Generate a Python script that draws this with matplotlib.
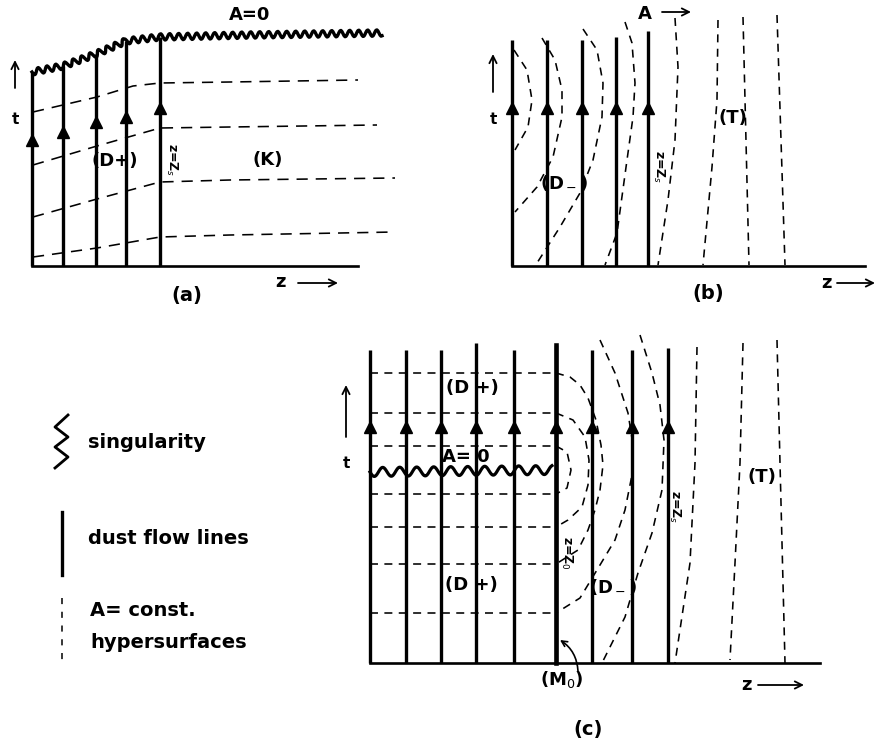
"""Dust collapse space-time diagrams (a), (b), (c) with legend."""
import matplotlib.pyplot as plt

plt.rcParams['font.family'] = ['DejaVu Sans', 'Noto Sans']

W, H = 875, 746
INK = "black"

# ---------------- panel (a) ----------------
a_flow_x = [32, 63, 96, 126, 160]
a_flow_top = [72, 66, 54, 41, 37]
a_arrow_y = [140, 132, 122, 117, 108]
a_base_y = 266
a_axis_x = [32, 358]
a_sing_x = [32, 63, 96, 126, 160, 250, 382]
a_sing_y = [72, 66, 54, 41, 37, 35, 33]
a_dash_x = [
    [33, 97, 133, 160, 230, 358],
    [33, 97, 160, 230, 377],
    [33, 97, 160, 230, 395],
    [33, 97, 160, 230, 395],
]
a_dash_y = [
    [112, 97, 86, 83, 82, 80],
    [165, 146, 128, 127, 125],
    [217, 199, 182, 180, 178],
    [257, 248, 237, 235, 232],
]

# ---------------- panel (b) ----------------
b_flow_x = [512, 547, 582, 616, 648]
b_flow_top = [40, 40, 40, 37, 31]
b_arrow_y = 108
b_base_y = 266
b_axis_x = [512, 865]
b_dash_x = [
    [514, 527, 532, 528, 515],
    [542, 555, 562, 562, 553, 537, 515],
    [583, 597, 603, 602, 593, 580, 560, 537],
    [625, 632, 635, 633, 627, 617, 605],
    [675, 678, 675, 668, 658],
    [718, 717, 712, 703],
    [743, 749],
    [777, 785],
]
b_dash_y = [
    [50, 70, 100, 127, 150],
    [38, 60, 90, 117, 157, 187, 212],
    [29, 50, 83, 117, 160, 193, 227, 263],
    [22, 43, 83, 117, 160, 233, 265],
    [18, 67, 140, 200, 265],
    [20, 100, 167, 265],
    [17, 265],
    [15, 265],
]

# ---------------- panel (c) ----------------
c_flow_x = [370, 406, 441, 476, 514, 556, 592, 632, 668]
c_flow_top = [350, 350, 350, 343, 350, 345, 350, 350, 348]
c_arrow_y = 427
c_base_y = 663
c_axis_x = [370, 820]
c_sing_x = [370, 552]
c_sing_y = [472, 470]
c_hdash_y = [373, 413, 446, 494, 527, 564, 613]
c_hdash_x = [370, 556]
c_curve_x = [
    [556, 567, 571, 567, 556],
    [556, 573, 585, 589, 588, 582, 568, 556],
    [556, 570, 580, 588, 596, 601, 603, 600, 595, 588, 578, 556],
    [600, 615, 628, 633, 632, 625, 615, 600, 580, 556],
    [640, 652, 660, 664, 662, 652, 638, 625, 612, 602],
    [697, 695, 690, 675],
    [743, 740, 735, 730],
    [777, 780, 785],
]
c_curve_y = [
    [446, 452, 470, 488, 494],
    [413, 420, 437, 460, 485, 507, 520, 527],
    [373, 377, 385, 398, 420, 445, 465, 490, 510, 530, 550, 564],
    [340, 373, 413, 445, 475, 510, 540, 565, 598, 613],
    [335, 373, 405, 440, 490, 533, 573, 617, 643, 663],
    [347, 463, 563, 663],
    [343, 463, 563, 660],
    [340, 463, 663],
]

# ---------------- legend ----------------
leg_zig_x = [68, 55, 68, 55, 68, 55]
leg_zig_y = [415, 427, 437, 447, 457, 468]
leg_solid_y = [512, 575]
leg_dash_y = [598, 665]
leg_x = 62


def flow_lines(ax, xs, tops, base, arrows, lw=2.4):
    for x, t in zip(xs, tops):
        ax.plot([x, x], [t, base], color=INK, lw=lw, solid_capstyle="butt")
    ys = arrows if isinstance(arrows, list) else [arrows] * len(xs)
    ax.plot(xs, ys, "^", color=INK, ms=9)


def dashed(ax, xs, ys, dash=(5, 4), lw=1.15):
    ax.plot(xs, ys, color=INK, lw=lw, dashes=dash)


def wiggle(ax, xs, ys, amp, period, lw=2.2):
    ln, = ax.plot(xs, ys, color=INK, lw=lw)
    ln.set_sketch_params(scale=amp, length=period, randomness=1)


def arrow(ax, tail, tip):
    ax.annotate("", xy=tip, xytext=tail,
                arrowprops=dict(arrowstyle="->", lw=1.3, color=INK,
                                mutation_scale=13, shrinkA=0, shrinkB=0))


def label(ax, x, y, s, size=13, **kw):
    ax.text(x, y, s, ha="center", va="center", fontsize=size,
            fontweight="bold", color=INK, **kw)


fig = plt.figure(figsize=(W / 100, H / 100), dpi=100)
ax = fig.add_axes([0, 0, 1, 1])
ax.set_xlim(0, W)
ax.set_ylim(H, 0)
ax.axis("off")

# (a)
ax.plot(a_axis_x, [a_base_y] * 2, color=INK, lw=1.9)
flow_lines(ax, a_flow_x, a_flow_top, a_base_y, a_arrow_y)
wiggle(ax, a_sing_x, a_sing_y, 3.2, 9, lw=2.4)
for xs, ys in zip(a_dash_x, a_dash_y):
    dashed(ax, xs, ys, dash=(7, 5))
label(ax, 250, 15, "A=0", size=13)
label(ax, 115, 161, "(D+)")
label(ax, 268, 160, "(K)")
label(ax, 172, 160, "z=Z$_s$", size=9, rotation=-90)
arrow(ax, (15, 88), (15, 60))
label(ax, 15, 120, "t", size=11)
label(ax, 280, 282, "z", size=13)
arrow(ax, (298, 283), (338, 283))
label(ax, 187, 295, "(a)", size=14)

# (b)
ax.plot(b_axis_x, [b_base_y] * 2, color=INK, lw=1.9)
flow_lines(ax, b_flow_x, b_flow_top, b_base_y, b_arrow_y)
for xs, ys in zip(b_dash_x, b_dash_y):
    dashed(ax, xs, ys, dash=(5, 4))
label(ax, 645, 14, "A", size=13)
arrow(ax, (662, 12), (691, 12))
label(ax, 564, 182, "(D$_-$)")
label(ax, 733, 118, "(T)")
label(ax, 659, 167, "z=Z$_s$", size=9, rotation=-90)
arrow(ax, (493, 92), (493, 54))
label(ax, 493, 120, "t", size=11)
label(ax, 827, 283, "z", size=13)
arrow(ax, (837, 283), (875, 283))
label(ax, 708, 293, "(b)", size=14)

# (c)
ax.plot(c_axis_x, [c_base_y] * 2, color=INK, lw=1.9)
flow_lines(ax, c_flow_x, c_flow_top, c_base_y, c_arrow_y)
ax.plot([c_flow_x[5]] * 2, [c_flow_top[5], c_base_y], color=INK, lw=3.3)
wiggle(ax, c_sing_x, c_sing_y, 4.5, 17, lw=2.3)
for y in c_hdash_y:
    dashed(ax, c_hdash_x, [y, y], dash=(5, 4))
for xs, ys in zip(c_curve_x, c_curve_y):
    dashed(ax, xs, ys, dash=(5, 4))
label(ax, 472, 388, "(D +)")
label(ax, 471, 585, "(D +)")
label(ax, 466, 457, "A= 0")
label(ax, 613, 587, "(D$_-$)")
label(ax, 762, 477, "(T)")
label(ax, 567, 553, "z=Z$_0$", size=9, rotation=-90)
label(ax, 675, 507, "z=Z$_s$", size=9, rotation=-90)
label(ax, 562, 680, "(M$_0$)")
ax.annotate("", xy=(560, 640), xytext=(578, 671),
            arrowprops=dict(arrowstyle="->", lw=1.2, color=INK,
                            connectionstyle="arc3,rad=0.25",
                            shrinkA=0, shrinkB=0))
arrow(ax, (346, 437), (346, 385))
label(ax, 346, 463, "t", size=11)
label(ax, 747, 685, "z", size=13)
arrow(ax, (758, 685), (804, 685))
label(ax, 588, 730, "(c)", size=14)

# legend
ax.plot(leg_zig_x, leg_zig_y, color=INK, lw=2.0)
ax.plot([leg_x] * 2, leg_solid_y, color=INK, lw=2.4)
ax.plot([leg_x] * 2, leg_dash_y, color=INK, lw=1.1, dashes=(4, 5))
for y, s, x0 in [(443, "singularity", 88), (538, "dust flow lines", 88),
                 (610, "A= const.", 90), (643, "hypersurfaces", 90)]:
    ax.text(x0, y, s, fontsize=14, fontweight="bold", va="center")

fig.savefig("out.png", dpi=100)
